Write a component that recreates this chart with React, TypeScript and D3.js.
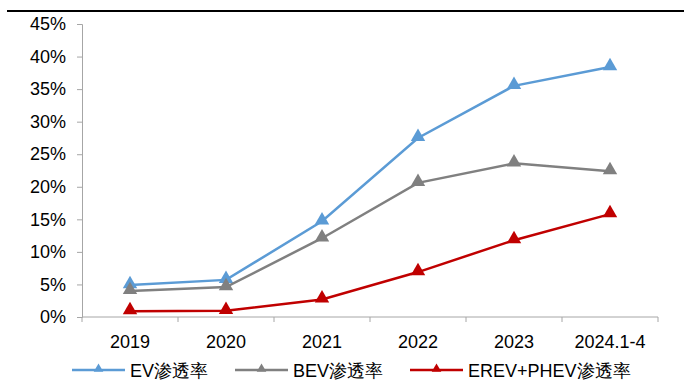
import React, { useEffect, useRef } from 'react';
import * as d3 from 'd3';

const categories = ['2019', '2020', '2021', '2022', '2023', '2024.1-4'];
const evRate = [4.9, 5.7, 14.7, 27.5, 35.5, 38.4];
const bevRate = [4.0, 4.6, 12.1, 20.6, 23.6, 22.4];
const phevRate = [0.9, 0.95, 2.7, 6.9, 11.8, 15.8];
const yTicks = [0, 5, 10, 15, 20, 25, 30, 35, 40, 45];

const series = [
  { name: 'EV渗透率', values: evRate, color: '#5B9BD5' },
  { name: 'BEV渗透率', values: bevRate, color: '#808080' },
  { name: 'EREV+PHEV渗透率', values: phevRate, color: '#C00000' },
];

export default function App() {
  const ref = useRef<SVGSVGElement | null>(null);

  useEffect(() => {
    const svg = d3.select(ref.current);
    svg.selectAll('*').remove();

    const font = 'Liberation Sans, Arial, sans-serif';
    const left = 82, right = 658, top = 24, bottom = 317;

    // top rule
    svg.append('line')
      .attr('x1', 7).attr('x2', 684).attr('y1', 11).attr('y2', 11)
      .attr('stroke', '#000').attr('stroke-width', 2);

    const x = d3.scaleBand().domain(categories).range([left, right]);
    const y = d3.scaleLinear().domain([0, 45]).range([bottom, top]);

    // y axis
    const yAxis = svg.append('g')
      .attr('transform', `translate(${left},0)`)
      .call(d3.axisLeft(y).tickValues(yTicks).tickSize(5).tickFormat(d => `${d}%`));
    yAxis.select('.domain').attr('stroke', '#A6A6A6');
    yAxis.selectAll('.tick line').attr('stroke', '#A6A6A6');
    yAxis.selectAll('.tick text')
      .attr('x', -16)
      .attr('fill', '#000')
      .style('font-size', '18px')
      .style('font-family', font);

    // x axis
    const xAxis = svg.append('g').attr('transform', `translate(0,${bottom})`);
    xAxis.append('line')
      .attr('x1', left).attr('x2', right).attr('y1', 0).attr('y2', 0)
      .attr('stroke', '#A6A6A6');
    const edges = categories.map(c => x(c)!).concat([right]);
    xAxis.selectAll('line.tk')
      .data(edges)
      .enter()
      .append('line')
      .attr('class', 'tk')
      .attr('x1', d => d).attr('x2', d => d)
      .attr('y1', 0).attr('y2', 5)
      .attr('stroke', '#A6A6A6');
    xAxis.selectAll('text')
      .data(categories)
      .enter()
      .append('text')
      .attr('x', d => x(d)! + x.bandwidth() / 2)
      .attr('y', 30.5)
      .attr('text-anchor', 'middle')
      .style('font-size', '18px')
      .style('font-family', font)
      .text(d => d);

    const line = d3.line<number>()
      .x((_, i) => x(categories[i])! + x.bandwidth() / 2)
      .y(d => y(d));

    const tri = d3.symbol().type(d3.symbolTriangle).size(90);
    const triSmall = d3.symbol().type(d3.symbolTriangle).size(40);

    series.forEach(s => {
      svg.append('path')
        .attr('d', line(s.values))
        .attr('fill', 'none')
        .attr('stroke', s.color)
        .attr('stroke-width', 2.5);
      svg.append('g')
        .selectAll('path')
        .data(s.values)
        .enter()
        .append('path')
        .attr('d', tri)
        .attr('transform', (d, i) => `translate(${x(categories[i])! + x.bandwidth() / 2},${y(d) - 1})`)
        .attr('fill', s.color);
    });

    // legend
    const legendX = [72, 235, 410];
    series.forEach((s, i) => {
      const g = svg.append('g').attr('transform', `translate(${legendX[i]},370)`);
      g.append('line')
        .attr('x1', 0).attr('x2', 53).attr('y1', 0).attr('y2', 0)
        .attr('stroke', s.color).attr('stroke-width', 2.5);
      g.append('path')
        .attr('d', triSmall)
        .attr('transform', 'translate(26.5,-1)')
        .attr('fill', s.color);
      g.append('text')
        .attr('x', 58)
        .attr('y', 6.5)
        .style('font-size', '18px')
        .style('font-family', font)
        .text(s.name);
    });
  }, []);

  return (
    <svg
      ref={ref}
      width={684}
      height={383}
      style={{ position: 'absolute', left: 0, top: 0, background: '#fff' }}
    />
  );
}
